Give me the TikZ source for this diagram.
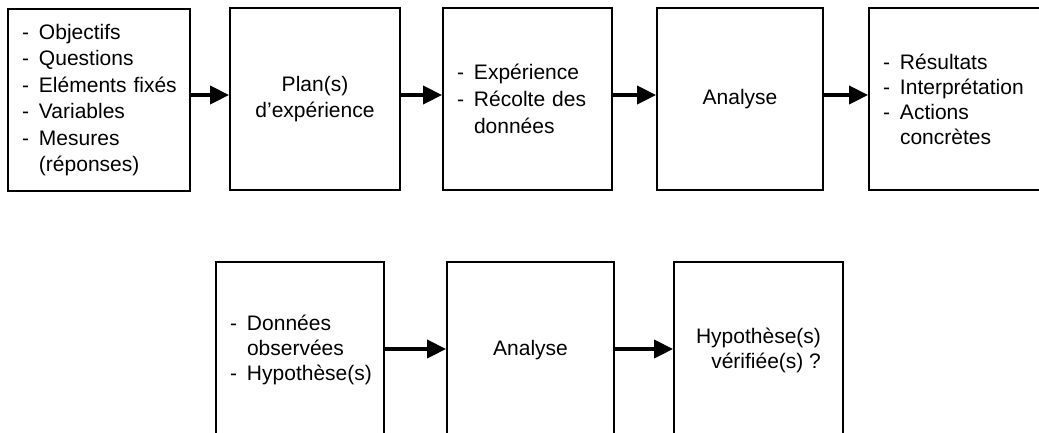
\documentclass[tikz,border=0pt]{standalone}
\usepackage{fontspec}
\setmainfont{Liberation Sans}
\usetikzlibrary{arrows.meta}
\newcommand{\dsh}{\makebox[17pt][l]{-}}
\newcommand{\ind}{\hspace*{17pt}}
\begin{document}
\begin{tikzpicture}[x=1pt,y=-1pt,
  box/.style={draw=black,line width=1.8pt,fill=white,inner ysep=0pt,font=\fontsize{21}{26}\selectfont},
  lbox/.style={box,align=left,inner xsep=14pt},
  cbox/.style={box,align=center},
  arr/.style={line width=3.6pt,-{Triangle[length=19pt,width=18pt]}}]
\clip (0,0) rectangle (1039,432);
\fill[white] (0,0) rectangle (1039,432);
% top row
\node[lbox,minimum width=182pt,minimum height=182pt,text width=154pt,font=\fontsize{21}{26.5}\selectfont] (b1) at (99,100)
  {\dsh Objectifs\\ \dsh Questions\\ \dsh \mbox{Eléments fixés}\\ \dsh Variables\\ \dsh Mesures\\ \ind(réponses)};
\node[cbox,minimum width=170pt,minimum height=182pt] (b2) at (315,99)
  {Plan(s)\\d’expérience};
\node[lbox,minimum width=169pt,minimum height=182pt,text width=141pt,font=\fontsize{21}{27}\selectfont] (b3) at (527.5,99)
  {\dsh Expérience\\ \dsh Récolte des\\ \ind données};
\node[cbox,minimum width=166pt,minimum height=182pt] (b4) at (740,99) {Analyse};
\node[lbox,minimum width=180pt,minimum height=182pt,text width=152pt,font=\fontsize{21}{25}\selectfont] (b5) at (959,99)
  {\dsh Résultats\\ \dsh Interprétation\\ \dsh Actions\\ \ind concrètes};
% bottom row
\node[lbox,minimum width=168pt,minimum height=176pt,text width=140pt,font=\fontsize{21}{25}\selectfont] (b6) at (300,350)
  {\dsh Données\\ \ind observées\\ \dsh Hypothèse(s)};
\node[cbox,minimum width=167pt,minimum height=176pt] (b7) at (530.5,350) {Analyse};
\node[box,align=right,minimum width=169pt,minimum height=176pt,font=\fontsize{21}{25}\selectfont] (b8) at (758.5,350)
  {Hypothèse(s)\\vérifiée(s) ?};
% connectors
\draw[arr] (b1.east |- 0,95) -- (b2.west |- 0,95);
\draw[arr] (b2.east |- 0,95) -- (b3.west |- 0,95);
\draw[arr] (b3.east |- 0,95) -- (b4.west |- 0,95);
\draw[arr] (b4.east |- 0,95) -- (b5.west |- 0,95);
\draw[arr] (b6.east |- 0,349) -- (b7.west |- 0,349);
\draw[arr] (b7.east |- 0,349) -- (b8.west |- 0,349);
\end{tikzpicture}
\end{document}
